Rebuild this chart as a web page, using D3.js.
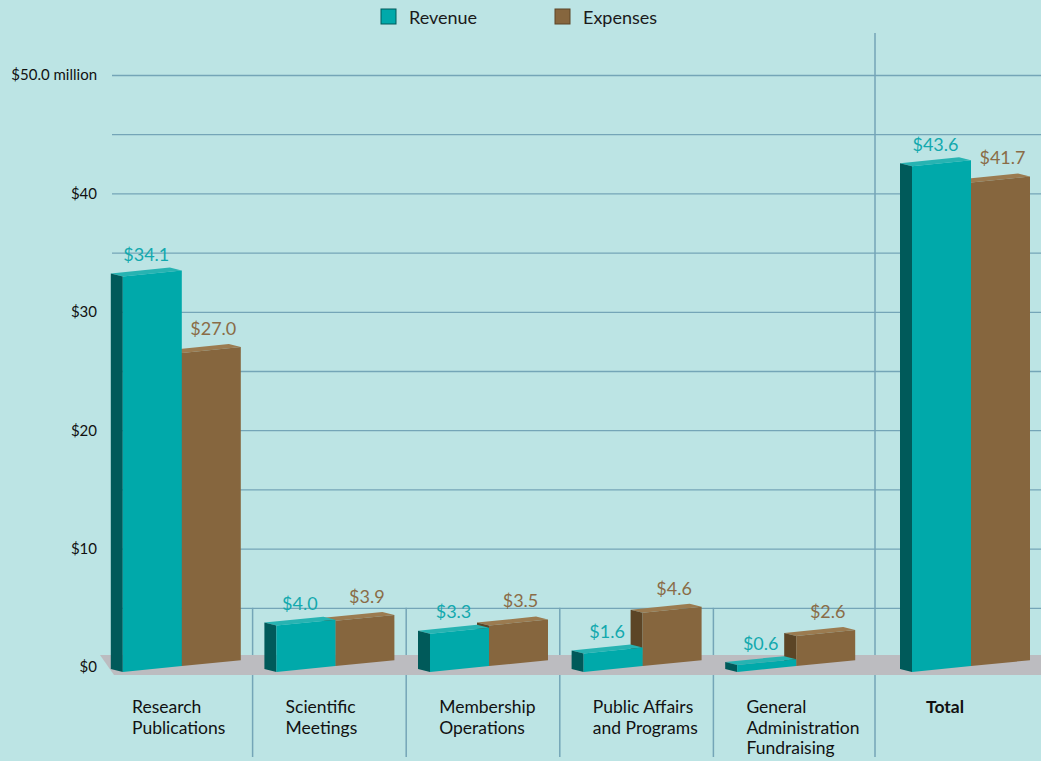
<!DOCTYPE html>
<html>

<head>
    <style>
        body { margin: 0; background: #bce4e4; }
        svg { display: block; font-family: Lato, "Open Sans", sans-serif; }
        .grid line { stroke: #74a5b7; stroke-width: 1.3; }
        .grid text { font-size: 15px; fill: #111; font-family: Lato, "Open Sans", sans-serif; }
        .cat { font-size: 17.5px; fill: #111; }
    </style>
</head>

<body>
    <svg id="chart" width="1041" height="761"></svg>
</body>
<script src="https://d3js.org/d3.v7.min.js"></script>

<script>
    // data ($ million)
    let categories = ["Research Publications", "Scientific Meetings", "Membership Operations",
        "Public Affairs and Programs", "General Administration Fundraising"];
    let catLines = [["Research", "Publications"], ["Scientific", "Meetings"], ["Membership", "Operations"],
        ["Public Affairs", "and Programs"], ["General", "Administration", "Fundraising"]];
    let revenue = [34.1, 4.0, 3.3, 1.6, 0.6];
    let expenses = [27.0, 3.9, 3.5, 4.6, 2.6];
    let totalRevenue = 43.6;
    let totalExpenses = 41.7;
    let yTicks = [0, 5, 10, 15, 20, 25, 30, 35, 40, 45, 50];
    let yLabels = {0: "$0", 10: "$10", 20: "$20", 30: "$30", 40: "$40", 50: "$50.0 million"};

    let colors = {
        rev: { front: "#00a9aa", side: "#005a5a", top: "#27b3b2", label: "#13a9ae" },
        exp: { front: "#86663e", side: "#5c4526", top: "#9b7b50", label: "#8a6c47" }
    };

    let svg = d3.select("#chart");

    let y = d3.scaleLinear().domain([0, 50]).range([667, 75]);
    let h = d3.scaleLinear().domain([0, 50]).range([0, 580]);   // bar heights (3d view is a bit shorter)
    let x = d3.scaleBand().domain(categories).range([99, 867]);
    let xTotal = d3.scaleBand().domain(["Total"]).range([875, 1055]);

    // gridlines + y labels
    svg.append("g")
        .attr("class", "grid")
        .attr("transform", "translate(112, 0)")
        .call(d3.axisLeft(y)
            .tickValues(yTicks)
            .tickSizeInner(-(1041 - 112))
            .tickSizeOuter(0)
            .tickPadding(15)
            .tickFormat((d) => yLabels[d] || ""))
        .call((g) => g.select(".domain").remove());

    // separators
    let sep = svg.append("g").attr("stroke", "#74a5b7").attr("stroke-width", 1.5);
    categories.slice(1).forEach((c) => {
        sep.append("line").attr("x1", x(c)).attr("x2", x(c)).attr("y1", y(5)).attr("y2", 757);
    });
    sep.append("line").attr("x1", xTotal("Total")).attr("x2", xTotal("Total")).attr("y1", 33).attr("y2", 757);

    // floor
    svg.append("path")
        .attr("d", "M100,655 L1041,655 L1041,675 L114,675 Z")
        .attr("fill", "#bcbcc0");

    let depthX = 12, depthY = 3, faceW = 59, shear = 0.1, baseY = 672;
    let fx0 = 0;
    let base = (px) => baseY - shear * (px - fx0);

    function drawBar(g, fx, value, col) {
        let rx = fx + faceW;
        let bh = h(value);
        let bl = base(fx), br = base(rx);
        g.append("path")
            .attr("d", `M${fx - depthX},${bl - bh - depthY} L${rx - depthX},${br - bh - depthY} L${rx},${br - bh} L${fx},${bl - bh} Z`)
            .attr("fill", col.top);
        g.append("path")
            .attr("d", `M${fx - depthX},${bl - bh - depthY} L${fx},${bl - bh} L${fx},${bl} L${fx - depthX},${bl - depthY} Z`)
            .attr("fill", col.side);
        g.append("path")
            .attr("d", `M${fx},${bl - bh} L${rx},${br - bh} L${rx},${br} L${fx},${bl} Z`)
            .attr("fill", col.front);
    }

    function drawGroup(cx, rev, exp) {
        let g = svg.append("g");
        fx0 = cx - 53;
        let mx = fx0 + faceW;
        drawBar(g, mx, exp, colors.exp);
        drawBar(g, fx0, rev, colors.rev);

        let rc = (fx0 - depthX + mx) / 2;
        g.append("text")
            .attr("x", rc)
            .attr("y", base(rc) - h(rev) - 13)
            .attr("text-anchor", "middle")
            .attr("font-size", 18)
            .attr("fill", colors.rev.label)
            .text("$" + rev.toFixed(1));
        let ec = mx + faceW / 2 + 2;
        g.append("text")
            .attr("x", ec)
            .attr("y", base(ec) - h(exp) - 15)
            .attr("text-anchor", "middle")
            .attr("font-size", 18)
            .attr("fill", colors.exp.label)
            .text("$" + exp.toFixed(1));
    }

    categories.forEach((c, i) => {
        drawGroup(x(c) + x.bandwidth() / 2, revenue[i], expenses[i]);
        let t = svg.append("text")
            .attr("class", "cat")
            .attr("x", x(c) + 33)
            .attr("y", 713);
        catLines[i].forEach((line, j) => {
            t.append("tspan").attr("x", x(c) + 33).attr("y", 713 + j * 20.5).text(line);
        });
    });

    drawGroup(xTotal("Total") + xTotal.bandwidth() / 2, totalRevenue, totalExpenses);
    svg.append("text")
        .attr("class", "cat")
        .attr("x", xTotal("Total") + 70)
        .attr("y", 713)
        .attr("text-anchor", "middle")
        .attr("font-weight", "bold")
        .text("Total");

    // legend
    let legend = svg.append("g").attr("font-size", 18).attr("fill", "#1a1a1a");
    [["Revenue", colors.rev, 381], ["Expenses", colors.exp, 555]].forEach(([name, col, lx]) => {
        legend.append("rect")
            .attr("x", lx).attr("y", 9).attr("width", 15).attr("height", 15)
            .attr("fill", col.front).attr("stroke", col.side).attr("stroke-width", 1);
        legend.append("text").attr("x", lx + 28).attr("y", 24).text(name);
    });
</script>

</html>
